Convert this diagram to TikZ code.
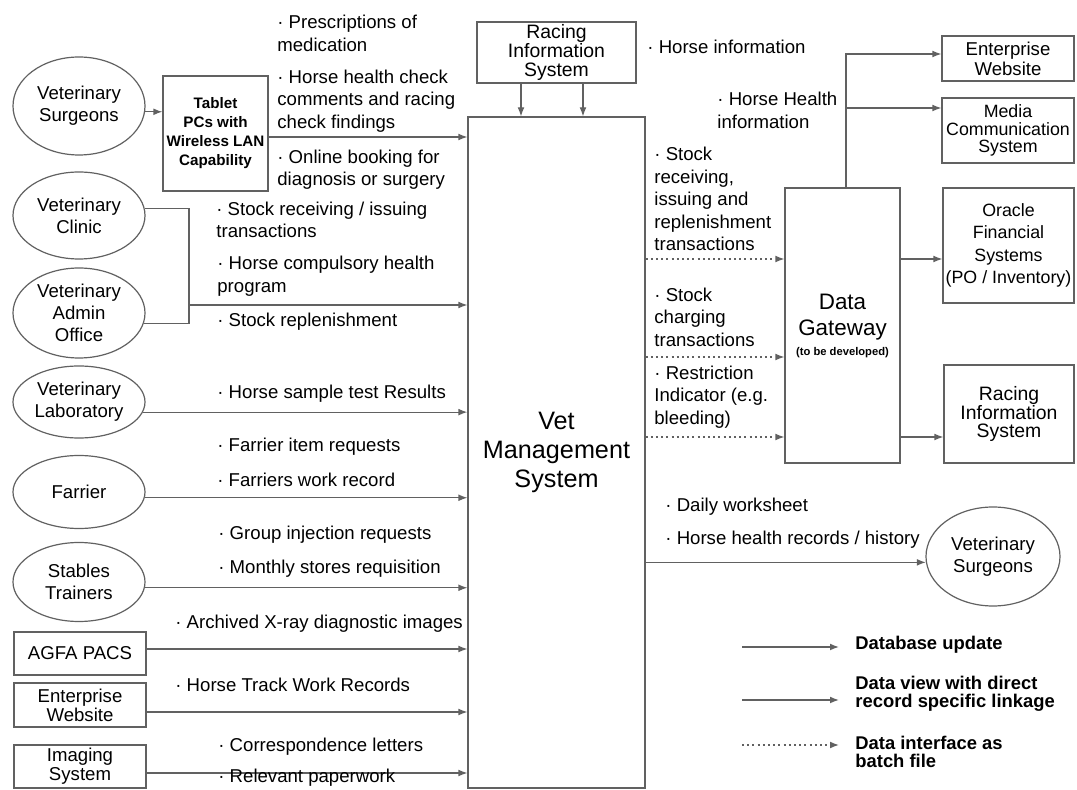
\documentclass[tikz,border=0pt]{standalone}
\usepackage{fontspec}
\setmainfont{Liberation Sans}
\usetikzlibrary{shapes.geometric,arrows.meta}
\newcommand{\fz}[2]{\fontsize{#1}{#2}\selectfont}
\begin{document}
\begin{tikzpicture}[x=0.5pt,y=-0.5pt,
  lc/.style={draw=black!62, line width=0.6pt},
  ell/.style={ellipse, lc, minimum width=66pt, inner sep=0pt, align=center, font=\fz{9.3}{11}},
  box/.style={rectangle, lc, inner sep=0pt, align=center, font=\fz{9.3}{9.4}},
  lab/.style={anchor=west, align=left, inner sep=0pt, font=\fz{9.3}{11.3}},
  arr/.style={lc, -{Latex[length=4.5pt,width=3.4pt]}},
  dot/.style={arr, dash pattern=on 1pt off 1.6pt},
  leg/.style={anchor=west, align=left, inner sep=0pt, font=\bfseries\fz{9.2}{9.2}}]
\fill[white] (0,0) rectangle (1077,790);
\useasboundingbox (0,0) rectangle (1077,790);

% ---------- left sources ----------
\node[ell, minimum height=49pt] (vs1) at (79,106) {Veterinary\\Surgeons};
\node[box, minimum width=52.5pt, minimum height=57.5pt, font=\bfseries\fz{7.6}{9.5}] (tab) at (215.5,133.5) {Tablet\\PCs with\\Wireless LAN\\Capability};
\node[ell, minimum height=43.5pt] (clinic) at (79,215.5) {Veterinary\\Clinic};
\node[ell, minimum height=45pt] (admin) at (79,313) {Veterinary\\Admin\\Office};
\node[ell, minimum height=36pt] (lab) at (79,402) {Veterinary\\Laboratory};
\node[ell, minimum height=36.5pt] (far) at (79,492) {Farrier};
\node[ell, minimum height=39.5pt] (stab) at (79,582) {Stables\\Trainers};
\node[box, minimum width=66pt, minimum height=21.5pt] (agfa) at (80,653.5) {AGFA PACS};
\node[box, minimum width=66pt, minimum height=22pt] (ew1) at (80,705) {Enterprise\\Website};
\node[box, minimum width=66pt, minimum height=21.5pt] (img) at (80,766.5) {Imaging\\System};

% ---------- central ----------
\node[box, minimum width=88.5pt, minimum height=335.5pt, font=\fz{12.6}{14.7}] (vms) at (556.5,452.5) {Vet\\Management\\System};
\node[box, minimum width=79.5pt, minimum height=30.5pt, font=\fz{9.7}{9.3}] (ris1) at (556.5,52.5) {Racing\\Information\\System};
\node[box, minimum width=57.5pt, minimum height=137.5pt, font=\fz{11.2}{13}] (dg) at (842.5,325.5) {Data\\Gateway\\[-3pt]{\bfseries\fz{5.6}{6}(to be developed)}};

% ---------- right targets ----------
\node[box, minimum width=66pt, minimum height=22.5pt, font=\fz{9.3}{10}] (ew2) at (1008,58.5) {Enterprise\\Website};
\node[box, minimum width=66pt, minimum height=32.5pt, font=\fz{8.9}{8.7}] (media) at (1008,130.5) {Media\\Communication\\System};
\node[box, minimum width=65.5pt, minimum height=57.5pt, font=\fz{8.9}{11.2}] (oracle) at (1008.5,245.5) {Oracle\\Financial\\Systems\\(PO / Inventory)};
\node[box, minimum width=65pt, minimum height=49pt, font=\fz{9.7}{9.3}] (ris2) at (1009,414) {Racing\\Information\\System};
\node[ell, minimum width=67pt, minimum height=49.5pt, font=\fz{9.3}{10.8}] (vs2) at (993,556.5) {Veterinary\\Surgeons};

% ---------- helper coordinates ----------
\coordinate (y137) at (0,137);
\coordinate (jx) at (189,0);
\coordinate (y305) at (0,305);
\coordinate (y649) at (0,649);
\coordinate (y712) at (0,712);
\coordinate (y773) at (0,773);
\coordinate (x521) at (521,0);
\coordinate (x583) at (583,0);
\coordinate (y259) at (0,259);
\coordinate (y357) at (0,357);
\coordinate (y437) at (0,437);
\coordinate (gx) at (846,0);
\coordinate (y54) at (0,54);
\coordinate (y108) at (0,108);

% ---------- left connectors ----------
\draw[arr] (vs1.-5) -- (tab.west |- vs1.-5);
\draw[arr] (tab.east |- y137) -- (vms.west |- y137);
\draw[lc] (clinic.6) -| (jx |- admin.-9) -- (admin.-9);
\draw[arr] (jx |- y305) -- (vms.west |- y305);
\draw[arr] (lab.-9) -- (vms.west |- lab.-9);
\draw[arr] (far.-5) -- (vms.west |- far.-5);
\draw[arr] (stab.-5) -- (vms.west |- stab.-5);
\draw[arr] (agfa.east |- y649) -- (vms.west |- y649);
\draw[arr] (ew1.east |- y712) -- (vms.west |- y712);
\draw[arr] (img.east |- y773) -- (vms.west |- y773);
\draw[arr] (ris1.south -| x521) -- (vms.north -| x521);
\draw[arr] (ris1.south -| x583) -- (vms.north -| x583);

% ---------- right connectors ----------
\draw[dot] (vms.east |- y259) -- (dg.west |- y259);
\draw[dot] (vms.east |- y357) -- (dg.west |- y357);
\draw[dot] (vms.east |- y437) -- (dg.west |- y437);
\draw[arr] (dg.east |- y259) -- (oracle.west |- y259);
\draw[arr] (dg.east |- y437) -- (ris2.west |- y437);
\draw[arr] (dg.north -| gx) |- (ew2.west |- y54);
\draw[arr] (dg.north -| gx) |- (media.west |- y108);
\draw[arr] (vms.east |- vs2.185) -- (vs2.185);

% ---------- labels ----------
\node[lab] (l1) at (277,33.5) {· Prescriptions of\\medication};
\node[lab] (l2) at (277,101) {· Horse health check\\comments and racing\\check findings};
\node[lab] (l3) at (277,169.5) {· Online booking for\\diagnosis or surgery};
\node[lab] (l4) at (216,220) {· Stock receiving / issuing\\transactions};
\node[lab] (l5) at (217,276) {· Horse compulsory health\\program};
\node[lab] (l6) at (217,322) {· Stock replenishment};
\node[lab] (l7) at (217,394) {· Horse sample test Results};
\node[lab] (l8) at (217,447) {· Farrier item requests};
\node[lab] (l9) at (217,480) {· Farriers work record};
\node[lab] (l10) at (218,535) {· Group injection requests};
\node[lab] (l11) at (218,569) {· Monthly stores requisition};
\node[lab] (l12) at (175,624) {· Archived X-ray diagnostic images};
\node[lab] (l13) at (175,685) {· Horse Track Work Records};
\node[lab] (l14) at (218,747) {· Correspondence letters};
\node[lab] (l15) at (218,778) {· Relevant paperwork};
\node[lab] (l16) at (647,47) {· Horse information};
\node[lab] (l17) at (717,110.5) {· Horse Health\\information};
\node[lab] (l18) at (654,199) {· Stock\\receiving,\\issuing and\\replenishment\\transactions};
\node[lab] (l19) at (654,317) {· Stock\\charging\\transactions};
\node[lab] (l20) at (654,397) {· Restriction\\Indicator (e.g.\\bleeding)};
\node[lab] (l21) at (665,507) {· Daily worksheet};
\node[lab] (l22) at (665,540) {· Horse health records / history};

% ---------- legend ----------
\node[leg] (g1) at (855,645) {Database update};
\node[leg] (g2) at (855,694) {Data view with direct\\record specific linkage};
\node[leg] (g3) at (855,752) {Data interface as\\batch file};
\coordinate (a1) at (742,647); \coordinate (b1) at (839,647);
\coordinate (a2) at (742,700); \coordinate (b2) at (839,700);
\coordinate (a3) at (742,745); \coordinate (b3) at (839,745);
\draw[arr] (a1) -- (b1);
\draw[arr] (a2) -- (b2);
\draw[dot] (a3) -- (b3);
\end{tikzpicture}
\end{document}
